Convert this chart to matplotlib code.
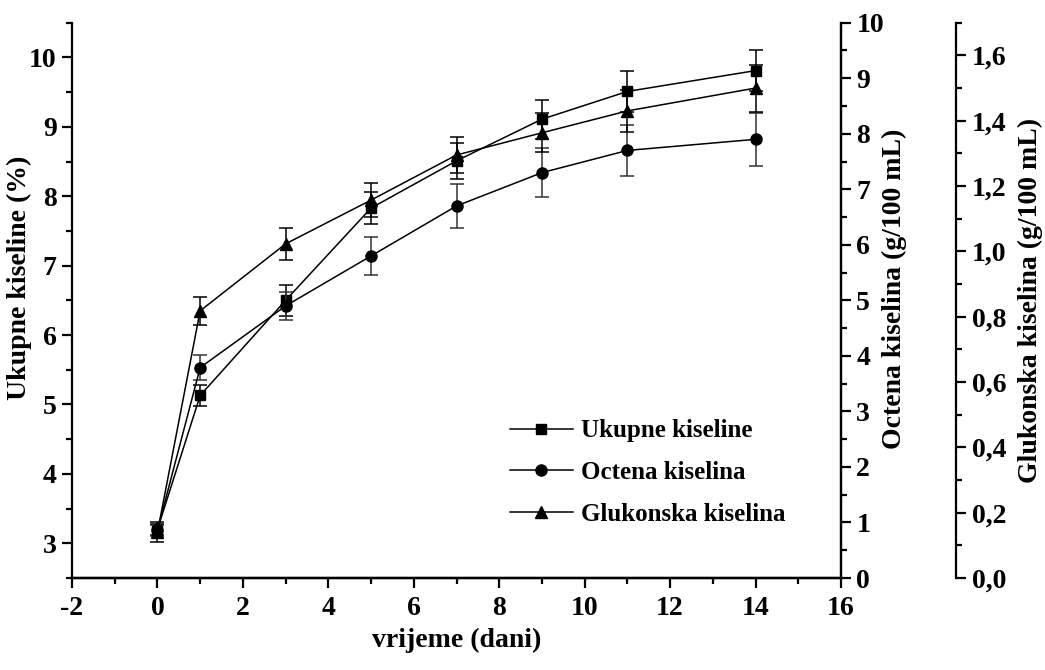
import matplotlib
matplotlib.use("Agg")
import matplotlib.pyplot as plt
from matplotlib.ticker import MultipleLocator, FuncFormatter
from matplotlib.lines import Line2D

plt.rcParams['font.family'] = ['Liberation Serif', 'DejaVu Serif']
plt.rcParams['font.weight'] = 'bold'
plt.rcParams['axes.unicode_minus'] = False

# vrijeme (dani)
days = [0, 1, 3, 5, 7, 9, 11, 14]

# Ukupne kiseline (%)
ukupne = [3.2, 5.13, 6.5, 7.83, 8.51, 9.11, 9.51, 9.81]
ukupne_err = [0.08, 0.15, 0.22, 0.23, 0.26, 0.28, 0.29, 0.29]

# Octena kiselina (g/100 mL)
octena = [0.86, 3.79, 4.9, 5.8, 6.7, 7.3, 7.7, 7.9]
octena_err = [0.1, 0.23, 0.25, 0.34, 0.4, 0.44, 0.46, 0.48]

# Glukonska kiselina (g/100 mL)
glukonska = [0.14, 0.818, 1.023, 1.157, 1.295, 1.363, 1.43, 1.5]
glukonska_err = [0.03, 0.043, 0.05, 0.052, 0.055, 0.06, 0.065, 0.072]

fs = 20

fig = plt.figure(figsize=(10.45, 6.7), dpi=100)
ax = fig.add_axes([0.0689, 0.1373, 0.7359, 0.8288])
ax2 = ax.twinx()
ax3 = ax.twinx()
ax3.spines['right'].set_position(('axes', 1.15))


def style_axis(a):
    for s in a.spines.values():
        s.set_linewidth(1.6)
    a.tick_params(axis='y', which='major', length=7, width=1.6, labelsize=fs, direction='out', pad=4)
    a.tick_params(axis='y', which='minor', length=4, width=1.6, direction='out')


style_axis(ax)
style_axis(ax2)
style_axis(ax3)
ax.tick_params(axis='x', which='major', length=7, width=1.6, labelsize=fs, direction='out', pad=6)
ax.tick_params(axis='x', which='minor', length=4, width=1.6, direction='out')

# errors first, lines and markers on top
ax.errorbar(days, ukupne, yerr=ukupne_err, fmt='none', ecolor='black', elinewidth=1.1, capsize=5, capthick=1.1)
ax.plot(days, ukupne, color='black', lw=1.1, marker='s', ms=7)
ax2.errorbar(days, octena, yerr=octena_err, fmt='none', ecolor='#333333', elinewidth=1.1, capsize=5, capthick=1.1)
ax2.plot(days, octena, color='black', lw=1.1, marker='o', ms=8)
ax3.errorbar(days, glukonska, yerr=glukonska_err, fmt='none', ecolor='black', elinewidth=1.1, capsize=5, capthick=1.1)
ax3.plot(days, glukonska, color='black', lw=1.1, marker='^', ms=8)

ax.set_xlim(-2, 16)
ax.set_ylim(2.5, 10.5)
ax2.set_ylim(0, 10)
ax3.set_ylim(0, 1.7)

ax.xaxis.set_major_locator(MultipleLocator(2))
ax.xaxis.set_minor_locator(MultipleLocator(1))
ax.yaxis.set_major_locator(MultipleLocator(1))
ax.yaxis.set_minor_locator(MultipleLocator(0.5))
ax2.yaxis.set_major_locator(MultipleLocator(1))
ax2.yaxis.set_minor_locator(MultipleLocator(0.5))
ax3.yaxis.set_major_locator(MultipleLocator(0.2))
ax3.yaxis.set_minor_locator(MultipleLocator(0.1))
ax3.yaxis.set_major_formatter(FuncFormatter(lambda v, p: ('%.1f' % v).replace('.', ',')))

for a in (ax, ax2, ax3):
    a.spines['top'].set_visible(False)
ax2.spines['left'].set_visible(False)
ax3.spines['left'].set_visible(False)

for lab in ax.get_xticklabels() + ax.get_yticklabels() + ax2.get_yticklabels() + ax3.get_yticklabels():
    lab.set_fontweight('bold')

ax.set_xlabel('vrijeme (dani)', fontsize=fs, fontweight='bold')
ax.xaxis.set_label_coords(0.5, -0.09)
ax.set_ylabel('Ukupne kiseline (%)', fontsize=fs, fontweight='bold', va='center')
ax.yaxis.set_label_coords(-0.068, 0.54)
ax2.set_ylabel('Octena kiselina (g/100 mL)', fontsize=fs, fontweight='bold', va='center')
ax2.yaxis.set_label_coords(1.07, 0.52)
ax3.set_ylabel('Glukonska kiselina (g/100 mL)', fontsize=fs, fontweight='bold', va='center')
ax3.yaxis.set_label_coords(1.246, 0.5)

handles = [
    Line2D([], [], color='black', lw=1.1, marker='s', ms=7),
    Line2D([], [], color='black', lw=1.1, marker='o', ms=8),
    Line2D([], [], color='black', lw=1.1, marker='^', ms=8),
]
names = ['Ukupne kiseline', 'Octena kiselina', 'Glukonska kiselina']
ax3.legend(handles, names, loc='center left', bbox_to_anchor=(0.5696, 0.19),
           frameon=False, handlelength=2.5, handletextpad=0.35,
           labelspacing=0.75, borderpad=0, borderaxespad=0,
           prop={'weight': 'bold', 'size': 18})

fig.savefig('out.png', dpi=100)
